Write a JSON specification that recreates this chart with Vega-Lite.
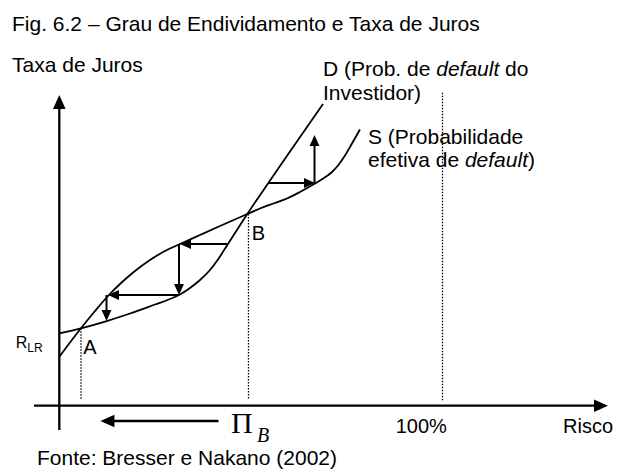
{
  "$schema": "https://vega.github.io/schema/vega-lite/v6.json",
  "width": 618,
  "height": 472,
  "autosize": {"type": "fit", "contains": "padding"},
  "padding": 0,
  "background": "white",
  "config": {"view": {"stroke": null}},
  "datasets": {
    "curves": [
      {"curve": "D", "x": 0, "y": 18.89}, {"curve": "D", "x": 5.66, "y": 20.2}, {"curve": "D", "x": 12.37, "y": 22.1},
      {"curve": "D", "x": 18.45, "y": 24.06}, {"curve": "D", "x": 24.97, "y": 26.41}, {"curve": "D", "x": 28.89, "y": 27.84},
      {"curve": "D", "x": 31.24, "y": 28.89}, {"curve": "D", "x": 34.11, "y": 30.72}, {"curve": "D", "x": 36.72, "y": 32.8},
      {"curve": "D", "x": 39.33, "y": 35.41}, {"curve": "D", "x": 41.41, "y": 38.15}, {"curve": "D", "x": 43.76, "y": 41.81},
      {"curve": "D", "x": 46.37, "y": 45.85}, {"curve": "D", "x": 49.06, "y": 50.03}, {"curve": "D", "x": 54.46, "y": 57.99},
      {"curve": "D", "x": 60.2, "y": 66.34}, {"curve": "D", "x": 68.82, "y": 78.73},
      {"curve": "S", "x": 0, "y": 12.79}, {"curve": "S", "x": 2.79, "y": 16.49}, {"curve": "S", "x": 5.66, "y": 20.2},
      {"curve": "S", "x": 9.32, "y": 24.71}, {"curve": "S", "x": 12.71, "y": 28.63}, {"curve": "S", "x": 15.84, "y": 31.76},
      {"curve": "S", "x": 19.75, "y": 35.15}, {"curve": "S", "x": 23.67, "y": 38.02}, {"curve": "S", "x": 27.58, "y": 40.37},
      {"curve": "S", "x": 31.5, "y": 42.2}, {"curve": "S", "x": 36.72, "y": 44.55}, {"curve": "S", "x": 41.94, "y": 46.89},
      {"curve": "S", "x": 49.06, "y": 50.03}, {"curve": "S", "x": 52.37, "y": 51.46}, {"curve": "S", "x": 56.29, "y": 52.9},
      {"curve": "S", "x": 59.42, "y": 54.07}, {"curve": "S", "x": 62.81, "y": 55.77}, {"curve": "S", "x": 66.73, "y": 57.99},
      {"curve": "S", "x": 69.08, "y": 59.42}, {"curve": "S", "x": 71.16, "y": 60.99}, {"curve": "S", "x": 72.73, "y": 62.68},
      {"curve": "S", "x": 74.3, "y": 64.9}, {"curve": "S", "x": 76.38, "y": 68.42}, {"curve": "S", "x": 78.47, "y": 72.08}
    ],
    "segs": [
      {"kind": "axis", "x": 0, "y": -6.34, "x2": 0, "y2": 79.78},
      {"kind": "axis", "x": -6.6, "y": 0, "x2": 141.88, "y2": 0},
      {"kind": "axis", "x": 41.54, "y": -3.99, "x2": 11.66, "y2": -3.99},
      {"kind": "arrow", "x": 43.76, "y": 42.2, "x2": 32.54, "y2": 42.2},
      {"kind": "arrow", "x": 31.24, "y": 42.2, "x2": 31.24, "y2": 29.93},
      {"kind": "arrow", "x": 31.24, "y": 28.89, "x2": 13.75, "y2": 28.89},
      {"kind": "arrow", "x": 12.32, "y": 28.89, "x2": 12.32, "y2": 23.15},
      {"kind": "arrow", "x": 54.46, "y": 58.11, "x2": 65.68, "y2": 58.11},
      {"kind": "arrow", "x": 66.6, "y": 58.11, "x2": 66.6, "y2": 69.6}
    ],
    "dots": [
      {"x": 5.66, "y": 20.2, "x2": 5.66, "y2": 1.49},
      {"x": 49.37, "y": 50.03, "x2": 49.37, "y2": 1.49},
      {"x": 100, "y": 81.68, "x2": 100, "y2": 1.23}
    ],
    "heads": [
      {"kind": "small", "dir": "left", "x": 31.5, "y": 42.2},
      {"kind": "small", "dir": "down", "x": 31.24, "y": 28.89},
      {"kind": "small", "dir": "left", "x": 12.71, "y": 28.89},
      {"kind": "small", "dir": "down", "x": 12.32, "y": 22.1},
      {"kind": "small", "dir": "right", "x": 66.73, "y": 58.11},
      {"kind": "small", "dir": "up", "x": 66.6, "y": 70.64},
      {"kind": "big", "dir": "left", "x": 10.73, "y": -3.99},
      {"kind": "big", "dir": "up", "x": 0, "y": 81.08},
      {"kind": "big", "dir": "right", "x": 143.19, "y": 0}
    ],
    "labels": [
      {"style": "s21", "text": "Fig. 6.2 – Grau de Endividamento e Taxa de Juros", "x": -12.34, "y": 97.78},
      {"style": "s21", "text": "Taxa de Juros", "x": -12.34, "y": 87.08},
      {"style": "s21", "text": "D (Prob. de", "x": 68.82, "y": 86.04},
      {"style": "i21", "text": "default", "x": 98.36, "y": 86.04},
      {"style": "s21", "text": "do", "x": 116.31, "y": 86.04},
      {"style": "s21", "text": "Investidor)", "x": 68.82, "y": 79.78},
      {"style": "s21", "text": "S (Probabilidade", "x": 80.56, "y": 68.29},
      {"style": "s21", "text": "efetiva de", "x": 80.56, "y": 62.29},
      {"style": "i21", "text": "default", "x": 105.85, "y": 62.29},
      {"style": "s21", "text": ")", "x": 122.29, "y": 62.29},
      {"style": "s20", "text": "A", "x": 6.26, "y": 13.49},
      {"style": "s20", "text": "B", "x": 50.21, "y": 43.24},
      {"style": "s20", "text": "100%", "x": 87.79, "y": -7.25},
      {"style": "s20", "text": "Risco", "x": 131.45, "y": -7.25},
      {"style": "s21", "text": "Fonte: Bresser e Nakano (2002)", "x": -5.82, "y": -15.47},
      {"style": "s16", "text": "R", "x": -11.38, "y": 14.93},
      {"style": "s12", "text": "LR", "x": -8.35, "y": 14.14},
      {"style": "pi", "text": "Π", "x": 44.81, "y": -7.12},
      {"style": "bi", "text": "B", "x": 51.59, "y": -9.47}
    ]
  },
  "encoding": {
    "x": {"field": "x", "type": "quantitative", "axis": null, "scale": {"domain": [-15.475, 145.8], "nice": false, "zero": false}},
    "y": {"field": "y", "type": "quantitative", "axis": null, "scale": {"domain": [-17.3, 105.87], "nice": false, "zero": false}}
  },
  "layer": [
    {
      "data": {"name": "curves"},
      "mark": {"type": "line", "interpolate": "monotone", "color": "black", "strokeWidth": 1.8},
      "encoding": {"detail": {"field": "curve", "type": "nominal"}}
    },
    {
      "data": {"name": "dots"},
      "mark": {"type": "rule", "color": "black", "strokeWidth": 1.3, "strokeDash": [1.5, 1.5]},
      "encoding": {"x2": {"field": "x2"}, "y2": {"field": "y2"}}
    },
    {
      "data": {"name": "segs"},
      "transform": [{"filter": "datum.kind === 'arrow'"}],
      "mark": {"type": "rule", "color": "black", "strokeWidth": 2},
      "encoding": {"x2": {"field": "x2"}, "y2": {"field": "y2"}}
    },
    {
      "data": {"name": "segs"},
      "transform": [{"filter": "datum.kind === 'axis'"}],
      "mark": {"type": "rule", "color": "black", "strokeWidth": 2.3},
      "encoding": {"x2": {"field": "x2"}, "y2": {"field": "y2"}}
    },
    {
      "data": {"name": "heads"},
      "mark": {"type": "point", "filled": true, "color": "black", "opacity": 1, "strokeWidth": 0},
      "encoding": {
        "shape": {"field": "dir", "type": "nominal", "legend": null, "scale": {"domain": ["left", "right", "up", "down"], "range": ["M0,0L1,-0.45L1,0.45Z", "M0,0L-1,-0.45L-1,0.45Z", "M0,0L-0.45,1L0.45,1Z", "M0,0L-0.45,-1L0.45,-1Z"]}},
        "size": {"field": "kind", "type": "nominal", "legend": null, "scale": {"domain": ["small", "big"], "range": [484, 784]}}
      }
    },
    {
      "data": {"name": "labels"},
      "transform": [{"filter": "datum.style === 's21'"}],
      "mark": {"type": "text", "align": "left", "baseline": "alphabetic", "font": "Liberation Sans", "fontSize": 21, "color": "black"},
      "encoding": {"text": {"field": "text"}}
    },
    {
      "data": {"name": "labels"},
      "transform": [{"filter": "datum.style === 'i21'"}],
      "mark": {"type": "text", "align": "left", "baseline": "alphabetic", "font": "Liberation Sans", "fontStyle": "italic", "fontSize": 21, "color": "black"},
      "encoding": {"text": {"field": "text"}}
    },
    {
      "data": {"name": "labels"},
      "transform": [{"filter": "datum.style === 's20'"}],
      "mark": {"type": "text", "align": "left", "baseline": "alphabetic", "font": "Liberation Sans", "fontSize": 20, "color": "black"},
      "encoding": {"text": {"field": "text"}}
    },
    {
      "data": {"name": "labels"},
      "transform": [{"filter": "datum.style === 's16'"}],
      "mark": {"type": "text", "align": "left", "baseline": "alphabetic", "font": "Liberation Sans", "fontSize": 16, "color": "black"},
      "encoding": {"text": {"field": "text"}}
    },
    {
      "data": {"name": "labels"},
      "transform": [{"filter": "datum.style === 's12'"}],
      "mark": {"type": "text", "align": "left", "baseline": "alphabetic", "font": "Liberation Sans", "fontSize": 12, "color": "black"},
      "encoding": {"text": {"field": "text"}}
    },
    {
      "data": {"name": "labels"},
      "transform": [{"filter": "datum.style === 'pi'"}],
      "mark": {"type": "text", "align": "left", "baseline": "alphabetic", "font": "Liberation Serif", "fontSize": 30, "color": "black"},
      "encoding": {"text": {"field": "text"}}
    },
    {
      "data": {"name": "labels"},
      "transform": [{"filter": "datum.style === 'bi'"}],
      "mark": {"type": "text", "align": "left", "baseline": "alphabetic", "font": "Liberation Serif", "fontStyle": "italic", "fontSize": 20, "color": "black"},
      "encoding": {"text": {"field": "text"}}
    }
  ]
}
